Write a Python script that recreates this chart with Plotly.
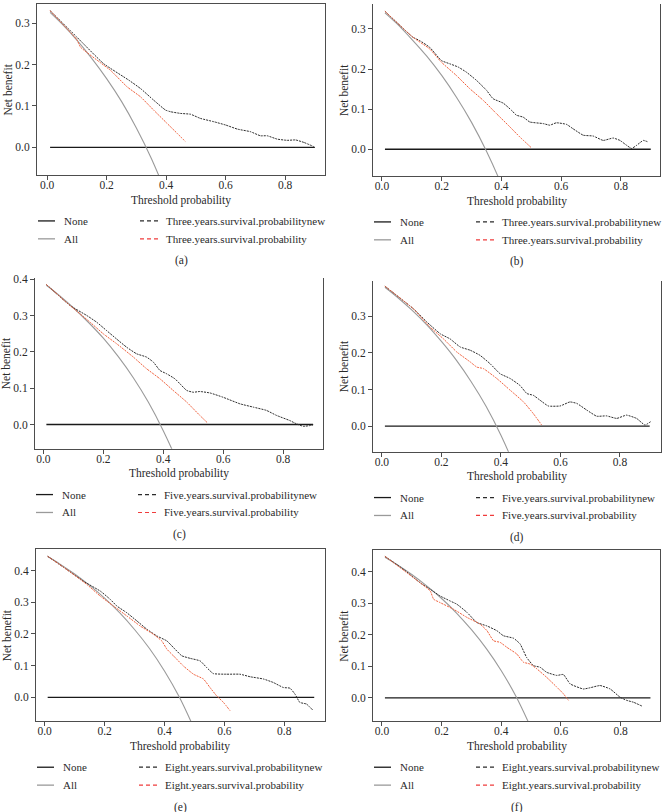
import plotly.graph_objects as go

W, H = 662, 812

# ---------------- data ----------------
none_x = [0.01, 0.90]
none_y = [0.0, 0.0]

all_x = [0.01, 0.05, 0.10, 0.15, 0.20, 0.25, 0.30, 0.35, 0.40, 0.45, 0.50]
all_a = [0.326, 0.298, 0.259, 0.215, 0.166, 0.111, 0.047, -0.026, -0.112, -0.213, -0.334]
all_b = [0.340, 0.313, 0.274, 0.232, 0.184, 0.129, 0.067, -0.005, -0.088, -0.187, -0.306]
all_c = [0.384, 0.358, 0.322, 0.282, 0.238, 0.187, 0.129, 0.062, -0.017, -0.109, -0.220]
all_d = [0.379, 0.353, 0.317, 0.277, 0.231, 0.180, 0.121, 0.054, -0.025, -0.118, -0.230]
all_e = [0.444, 0.421, 0.389, 0.353, 0.313, 0.267, 0.214, 0.154, 0.083, 0.000, -0.100]
all_f = [0.446, 0.423, 0.391, 0.355, 0.315, 0.269, 0.216, 0.156, 0.086, 0.003, -0.096]

# (a) three years
a_new_x = [0.01, 0.10, 0.19, 0.275, 0.314, 0.358, 0.398, 0.415, 0.448, 0.482, 0.515, 0.56, 0.60,
           0.64, 0.683, 0.717, 0.74, 0.773, 0.807, 0.835, 0.863, 0.896]
a_new_y = [0.330, 0.266, 0.202, 0.162, 0.142, 0.114, 0.090, 0.086, 0.082, 0.080, 0.070, 0.062, 0.054,
           0.044, 0.038, 0.028, 0.028, 0.020, 0.017, 0.018, 0.012, 0.002]
a_old_x = [0.01, 0.10, 0.112, 0.18, 0.213, 0.269, 0.314, 0.358, 0.403, 0.437, 0.465]
a_old_y = [0.330, 0.260, 0.242, 0.204, 0.186, 0.146, 0.122, 0.090, 0.058, 0.034, 0.014]

# (b) three years
b_new_x = [0.01, 0.104, 0.126, 0.16, 0.199, 0.227, 0.255, 0.283, 0.316, 0.35, 0.372, 0.406, 0.434,
           0.45, 0.473, 0.495, 0.54, 0.562, 0.584, 0.618, 0.64, 0.674, 0.707, 0.741, 0.774, 0.797,
           0.819, 0.836, 0.853, 0.875, 0.892]
b_new_y = [0.344, 0.279, 0.271, 0.254, 0.221, 0.213, 0.205, 0.192, 0.172, 0.147, 0.126, 0.115, 0.097,
           0.085, 0.080, 0.068, 0.064, 0.060, 0.066, 0.062, 0.051, 0.035, 0.033, 0.022, 0.028, 0.022,
           0.010, 0.002, 0.010, 0.022, 0.018]
b_old_x = [0.01, 0.104, 0.16, 0.199, 0.249, 0.294, 0.339, 0.383, 0.428, 0.461, 0.50]
b_old_y = [0.344, 0.279, 0.250, 0.217, 0.184, 0.151, 0.122, 0.089, 0.056, 0.031, 0.004]

# (c) five years
c_new_x = [0.01, 0.089, 0.144, 0.178, 0.211, 0.244, 0.278, 0.311, 0.344, 0.367, 0.389, 0.411, 0.439,
           0.456, 0.478, 0.50, 0.522, 0.556, 0.60, 0.656, 0.70, 0.744, 0.778, 0.822, 0.844, 0.867,
           0.889, 0.90]
c_new_y = [0.386, 0.328, 0.301, 0.282, 0.259, 0.236, 0.213, 0.195, 0.186, 0.172, 0.149, 0.140, 0.126,
           0.112, 0.094, 0.089, 0.091, 0.087, 0.075, 0.057, 0.048, 0.039, 0.025, 0.011, 0.002, -0.005,
           -0.003, -0.001]
c_old_x = [0.01, 0.089, 0.156, 0.20, 0.244, 0.30, 0.344, 0.389, 0.433, 0.478, 0.522, 0.547]
c_old_y = [0.386, 0.328, 0.282, 0.250, 0.223, 0.186, 0.154, 0.126, 0.094, 0.062, 0.025, 0.005]

# (d) five years
d_new_x = [0.01, 0.106, 0.151, 0.196, 0.229, 0.263, 0.297, 0.33, 0.364, 0.397, 0.431, 0.464, 0.487,
           0.509, 0.531, 0.559, 0.599, 0.632, 0.655, 0.688, 0.722, 0.755, 0.789, 0.822, 0.856, 0.884,
           0.903]
d_new_y = [0.382, 0.320, 0.284, 0.252, 0.238, 0.216, 0.207, 0.193, 0.170, 0.143, 0.130, 0.111, 0.089,
           0.084, 0.071, 0.055, 0.055, 0.066, 0.062, 0.044, 0.027, 0.028, 0.021, 0.030, 0.021, 0.003,
           0.012]
d_old_x = [0.01, 0.106, 0.162, 0.207, 0.252, 0.297, 0.319, 0.341, 0.386, 0.431, 0.476, 0.509, 0.537]
d_old_y = [0.382, 0.320, 0.270, 0.238, 0.202, 0.175, 0.161, 0.157, 0.130, 0.098, 0.066, 0.034, 0.003]

# (e) eight years
e_new_x = [0.01, 0.074, 0.13, 0.186, 0.219, 0.241, 0.274, 0.308, 0.341, 0.374, 0.408, 0.43, 0.458,
           0.486, 0.519, 0.541, 0.563, 0.608, 0.652, 0.686, 0.73, 0.763, 0.797, 0.819, 0.836, 0.852,
           0.874, 0.897]
e_new_y = [0.445, 0.403, 0.366, 0.335, 0.309, 0.288, 0.267, 0.241, 0.215, 0.194, 0.178, 0.157, 0.131,
           0.123, 0.115, 0.094, 0.075, 0.073, 0.073, 0.065, 0.058, 0.047, 0.031, 0.029, 0.010, -0.016,
           -0.021, -0.042]
e_old_x = [0.01, 0.074, 0.141, 0.186, 0.23, 0.274, 0.319, 0.363, 0.391, 0.408, 0.43, 0.463, 0.497,
           0.53, 0.552, 0.574, 0.597, 0.619]
e_old_y = [0.445, 0.403, 0.356, 0.319, 0.288, 0.257, 0.225, 0.199, 0.178, 0.152, 0.131, 0.099, 0.073,
           0.058, 0.031, 0.005, -0.016, -0.042]

# (f) eight years
f_new_x = [0.01, 0.073, 0.128, 0.162, 0.195, 0.229, 0.251, 0.285, 0.318, 0.352, 0.385, 0.407, 0.441,
           0.463, 0.485, 0.508, 0.53, 0.552, 0.586, 0.608, 0.631, 0.675, 0.698, 0.731, 0.765, 0.798,
           0.82, 0.843, 0.871]
f_new_y = [0.449, 0.407, 0.365, 0.344, 0.323, 0.307, 0.297, 0.271, 0.239, 0.228, 0.213, 0.197, 0.189,
           0.171, 0.128, 0.102, 0.097, 0.081, 0.071, 0.074, 0.044, 0.028, 0.032, 0.039, 0.028, 0.002,
           -0.008, -0.014, -0.026]
f_old_x = [0.01, 0.128, 0.162, 0.173, 0.195, 0.24, 0.285, 0.329, 0.352, 0.374, 0.396, 0.419, 0.452,
           0.474, 0.497, 0.519, 0.552, 0.586, 0.608, 0.625]
f_old_y = [0.449, 0.365, 0.339, 0.313, 0.302, 0.281, 0.255, 0.234, 0.213, 0.181, 0.176, 0.160, 0.139,
           0.113, 0.107, 0.092, 0.065, 0.034, 0.013, -0.008]

x_ticks = [0.0, 0.2, 0.4, 0.6, 0.8]
x_tick_labels = ["0.0", "0.2", "0.4", "0.6", "0.8"]
y_ticks_3 = [0.0, 0.1, 0.2, 0.3]
y_ticks_4 = [0.0, 0.1, 0.2, 0.3, 0.4]

leg_none = "None"
leg_all = "All"
leg_three_new = "Three.years.survival.probabilitynew"
leg_three = "Three.years.survival.probability"
leg_five_new = "Five.years.survival.probabilitynew"
leg_five = "Five.years.survival.probability"
leg_eight_new = "Eight.years.survival.probabilitynew"
leg_eight = "Eight.years.survival.probability"
panel_tags = ["(a)", "(b)", "(c)", "(d)", "(e)", "(f)"]
x_title = "Threshold probability"
y_title = "Net benefit"

# ---------------- layout / style ----------------
FONT = "Liberation Serif"
TXT = "#2a2a2a"
AXC = "#4d4d4d"
BLACK_DASH = "#2b2b2b"
RED = "#f0603c"
GRAY = "#9a9a9a"
FS = 11.5
FS_LEG = 11


def xp(px):
    return px / W


def yp(py):
    return 1 - py / H


panels = [
    dict(px=(37, 325), py=(0, 172), xr=(-0.034, 0.934), yr=(-0.067, 0.346), yt=y_ticks_3, top=True,
         allv=all_a, new=(a_new_x, a_new_y), old=(a_old_x, a_old_y), ln=(leg_three_new, leg_three)),
    dict(px=(373, 660), py=(0, 173), xr=(-0.030, 0.931), yr=(-0.067, 0.362), yt=y_ticks_3, top=False,
         allv=all_b, new=(b_new_x, b_new_y), old=(b_old_x, b_old_y), ln=(leg_three_new, leg_three)),
    dict(px=(35, 323), py=(275, 447), xr=(-0.028, 0.933), yr=(-0.067, 0.405), yt=y_ticks_4, top=False,
         allv=all_c, new=(c_new_x, c_new_y), old=(c_old_x, c_old_y), ln=(leg_five_new, leg_five)),
    dict(px=(373, 661), py=(278, 450), xr=(-0.030, 0.938), yr=(-0.070, 0.397), yt=y_ticks_3, top=False,
         allv=all_d, new=(d_new_x, d_new_y), old=(d_old_x, d_old_y), ln=(leg_five_new, leg_five)),
    dict(px=(36, 325), py=(548, 721), xr=(-0.029, 0.936), yr=(-0.076, 0.467), yt=y_ticks_4, top=True,
         allv=all_e, new=(e_new_x, e_new_y), old=(e_old_x, e_old_y), ln=(leg_eight_new, leg_eight)),
    dict(px=(373, 660), py=(549, 721), xr=(-0.030, 0.932), yr=(-0.075, 0.468), yt=y_ticks_4, top=True,
         allv=all_f, new=(f_new_x, f_new_y), old=(f_old_x, f_old_y), ln=(leg_eight_new, leg_eight)),
]

fig = go.Figure()
annotations = []
shapes = []
layout = dict(
    width=W, height=H, autosize=False,
    margin=dict(l=0, r=0, t=0, b=0, pad=0),
    paper_bgcolor="white", plot_bgcolor="white",
    showlegend=False,
    font=dict(family=FONT, size=FS, color=TXT),
)

for i, p in enumerate(panels):
    n = "" if i == 0 else str(i + 1)
    xa, ya = "x" + n, "y" + n
    fig.add_trace(go.Scatter(x=none_x, y=none_y, mode="lines", xaxis=xa, yaxis=ya,
                             line=dict(color="#1a1a1a", width=1.3)))
    fig.add_trace(go.Scatter(x=all_x, y=p["allv"], mode="lines", xaxis=xa, yaxis=ya,
                             line=dict(color=GRAY, width=1.1, shape="spline", smoothing=0.8)))
    fig.add_trace(go.Scatter(x=p["new"][0], y=p["new"][1], mode="lines", xaxis=xa, yaxis=ya,
                             line=dict(color=BLACK_DASH, width=1, dash="2px,1px", shape="spline",
                                       smoothing=0.4)))
    fig.add_trace(go.Scatter(x=p["old"][0], y=p["old"][1], mode="lines", xaxis=xa, yaxis=ya,
                             line=dict(color=RED, width=1, dash="2px,1px", shape="spline",
                                       smoothing=0.4)))
    x0, x1 = p["px"]
    y0, y1 = p["py"]
    layout["xaxis" + n] = dict(
        domain=[xp(x0), xp(x1)], range=list(p["xr"]), anchor=ya,
        showline=True, linecolor=AXC, linewidth=1, mirror=p["top"],
        ticks="outside", ticklen=4, tickcolor=AXC, tickwidth=1,
        ticklabelstandoff=-5,
        tickvals=x_ticks, ticktext=x_tick_labels, showgrid=False, zeroline=False,
        tickfont=dict(family=FONT, size=FS, color=TXT),
    )
    layout["yaxis" + n] = dict(
        domain=[yp(y1), yp(y0)], range=list(p["yr"]), anchor=xa,
        showline=True, linecolor=AXC, linewidth=1, mirror=True,
        ticks="outside", ticklen=4, tickcolor=AXC, tickwidth=1,
        tickvals=p["yt"], tickformat=".1f", showgrid=False, zeroline=False,
        tickfont=dict(family=FONT, size=FS, color=TXT),
    )
    cx = (x0 + x1) / 2
    annotations.append(dict(x=xp(cx), y=yp(y1 + 25), xref="paper", yref="paper", text=x_title,
                            showarrow=False, xanchor="center", yanchor="middle",
                            font=dict(family=FONT, size=FS, color=TXT)))
    annotations.append(dict(x=xp(x0 - 29), y=yp((y0 + y1) / 2), xref="paper", yref="paper",
                            text=y_title, textangle=-90, showarrow=False, xanchor="center",
                            yanchor="middle", font=dict(family=FONT, size=FS, color=TXT)))
    r1, r2 = y1 + 46, y1 + 64
    lx = x0 + 1
    shapes.append(dict(type="line", xref="paper", yref="paper", x0=xp(lx), x1=xp(lx + 17),
                       y0=yp(r1), y1=yp(r1), line=dict(color="#1a1a1a", width=1.3)))
    shapes.append(dict(type="line", xref="paper", yref="paper", x0=xp(lx), x1=xp(lx + 17),
                       y0=yp(r2), y1=yp(r2), line=dict(color=GRAY, width=1.3)))
    shapes.append(dict(type="line", xref="paper", yref="paper", x0=xp(lx + 102), x1=xp(lx + 121),
                       y0=yp(r1), y1=yp(r1), line=dict(color=BLACK_DASH, width=1.2, dash="4px,3px")))
    shapes.append(dict(type="line", xref="paper", yref="paper", x0=xp(lx + 102), x1=xp(lx + 121),
                       y0=yp(r2), y1=yp(r2), line=dict(color="#f03c3c", width=1.2, dash="4px,3px")))
    for txt, tx, ty in [(leg_none, lx + 24, r1), (leg_all, lx + 24, r2),
                        (p["ln"][0], lx + 126, r1), (p["ln"][1], lx + 126, r2)]:
        annotations.append(dict(x=xp(tx), y=yp(ty), xref="paper", yref="paper", text=txt,
                                showarrow=False, xanchor="left", yanchor="middle",
                                font=dict(family=FONT, size=FS_LEG, color=TXT)))
    annotations.append(dict(x=xp(cx), y=yp(y1 + 86), xref="paper", yref="paper",
                            text=panel_tags[i], showarrow=False, xanchor="center",
                            yanchor="middle", font=dict(family=FONT, size=FS, color=TXT)))

layout["annotations"] = annotations
layout["shapes"] = shapes
fig.update_layout(**layout)
fig.write_html("out.html", config={"displayModeBar": False},
               post_script="document.body.style.margin='0px';document.body.style.padding='0px';")
